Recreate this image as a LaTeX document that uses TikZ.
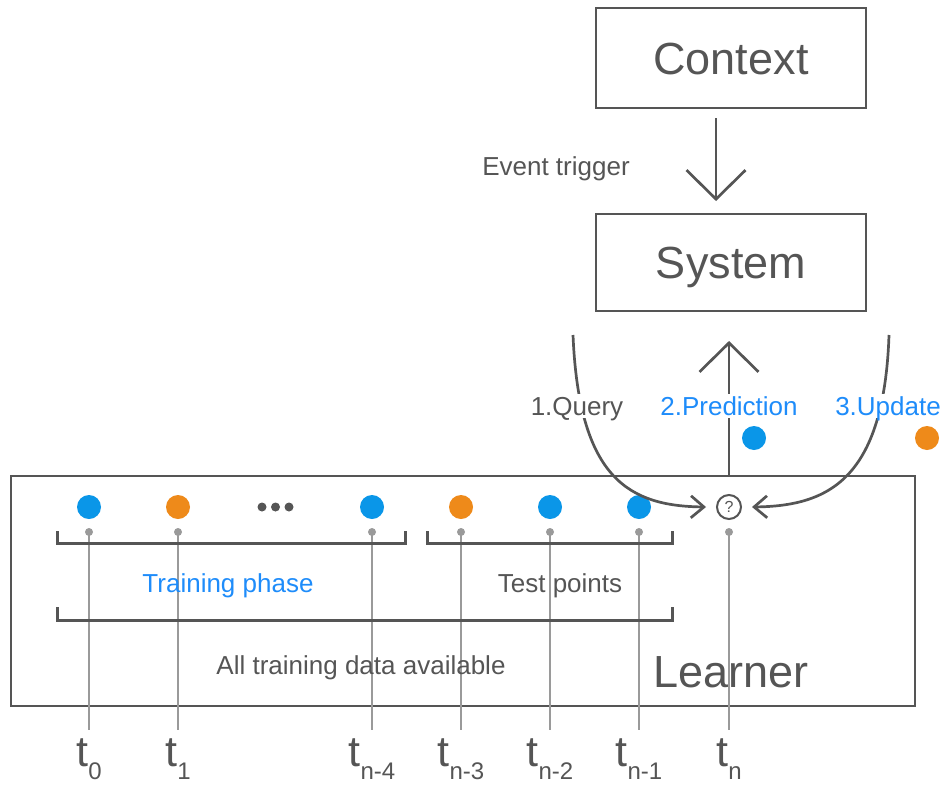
\documentclass[tikz,border=0pt]{standalone}
\usepackage{fontspec}
\setmainfont{Liberation Sans}
\usetikzlibrary{arrows.meta,calc}
\definecolor{dk}{HTML}{555555}
\definecolor{bl}{HTML}{0A96E8}
\definecolor{blt}{HTML}{1E8CFA}
\definecolor{og}{HTML}{EE8A1A}
\definecolor{gr}{HTML}{9A9A9A}
\newcommand\tsub[1]{\raisebox{-13pt}{\fontsize{24}{24}\selectfont #1}}
\begin{document}
\begin{tikzpicture}[x=1pt,y=-1pt,
  box/.style={draw=dk,line width=2.8pt,inner sep=0pt,text=dk,
    font=\fontsize{45}{45}\selectfont,text height=32.4pt,text depth=0pt},
  lbl/.style={text=dk,font=\fontsize{26}{26}\selectfont,inner sep=3pt,
    text height=18.7pt,text depth=0pt},
  dkline/.style={draw=dk,line width=2.7pt},
  bigtip/.style={-{Straight Barb[length=29pt,width=59pt,line width=2.7pt]}},
  smalltip/.style={-{Straight Barb[length=13pt,width=22pt,line width=2.7pt]}},
  bdot/.style={circle,fill=bl,draw=none,minimum size=24pt,inner sep=0pt},
  odot/.style={circle,fill=og,draw=none,minimum size=24pt,inner sep=0pt},
  sdot/.style={circle,fill=dk,draw=none,minimum size=9pt,inner sep=0pt},
  tdot/.style={circle,fill=gr,draw=none,minimum size=8pt,inner sep=0pt},
  tline/.style={draw=gr,line width=1.2pt},
  brk/.style={draw=dk,line width=3pt},
  tlbl/.style={anchor=base,text=dk,inner sep=0pt,font=\fontsize{43}{43}\selectfont}
]
\useasboundingbox (0,0) rectangle (944,784);

% top boxes
\node[box,minimum width=270pt,minimum height=100pt] (ctx) at (731,58) {Context};
\node[box,minimum width=270pt,minimum height=97pt] (sys) at (731,262.5) {System};
\coordinate (ctxout) at (716,118);
\coordinate (sysin) at (716,201);
\draw[dkline,bigtip] (ctxout) -- (sysin);
\node[lbl] (evt) at (556,166.5) {Event trigger};

% learner box
\node[draw=dk,line width=2.8pt,minimum width=904pt,minimum height=230pt,inner sep=0pt] (lrn) at (463,591) {};
\node[box,draw=none] (lrnlbl) at (731,671.5) {Learner};

% tick lines
\foreach \n/\x in {0/89,1/178,2/372,3/461,4/550,5/639,6/729}{
  \coordinate (e\n) at (\x,730);
  \node[tdot] (k\n) at (\x,532) {};
  \draw[tline] (k\n.center) -- (e\n);
}

% brackets
\draw[brk] (57,531) -- (57,543) -- (405,543) -- (405,531);
\draw[brk] (427,531) -- (427,543) -- (672,543) -- (672,531);
\draw[brk] (57,607) -- (57,620) -- (672,620) -- (672,607);

\node[lbl,text=blt] (train) at (228,583) {Training phase};
\node[lbl] (test) at (560,583) {Test points};
\node[lbl] (all) at (361,665) {All training data available};

% data points
\node[bdot] (d0) at (89,507) {};
\node[odot] (d1) at (178,507) {};
\node[sdot] (s1) at (262,507) {};
\node[sdot] (s2) at (275.5,507) {};
\node[sdot] (s3) at (289,507) {};
\node[bdot] (d2) at (372,507) {};
\node[odot] (d3) at (461,507) {};
\node[bdot] (d4) at (550,507) {};
\node[bdot] (d5) at (639,507) {};
\node[circle,draw=dk,line width=2pt,minimum size=24pt,inner sep=0pt,text=dk,
  font=\fontsize{16}{16}\selectfont] (q) at (729,507) {?};

% arrows to / from system
\coordinate (qs) at (573,335);
\coordinate (us) at (889,335);
\coordinate (ptip) at (729,341);
\draw[dkline,smalltip] (qs) .. controls (579,480) and (630,506) .. ([xshift=-10pt]q.west);
\draw[dkline,smalltip] (us) .. controls (884,480) and (828,506) .. ([xshift=10pt]q.east);
\draw[dkline,bigtip] (lrn.north -| q) -- (ptip);

\node[lbl,fill=white] (query) at (577,406) {1.Query};
\node[lbl,fill=white,text=blt] (pred) at (729,406) {2.Prediction};
\node[lbl,fill=white,text=blt] (upd) at (888,406) {3.Update};
\node[bdot] (pdot) at (754,438) {};
\node[odot] (udot) at (927,438) {};

% time labels
\node[tlbl] (t0) at (89,766) {t\tsub{0}};
\node[tlbl] (t1) at (178,766) {t\tsub{1}};
\node[tlbl] (t2) at (372,766) {t\tsub{n-4}};
\node[tlbl] (t3) at (461,766) {t\tsub{n-3}};
\node[tlbl] (t4) at (550,766) {t\tsub{n-2}};
\node[tlbl] (t5) at (639,766) {t\tsub{n-1}};
\node[tlbl] (t6) at (729,766) {t\tsub{n}};
\end{tikzpicture}
\end{document}
